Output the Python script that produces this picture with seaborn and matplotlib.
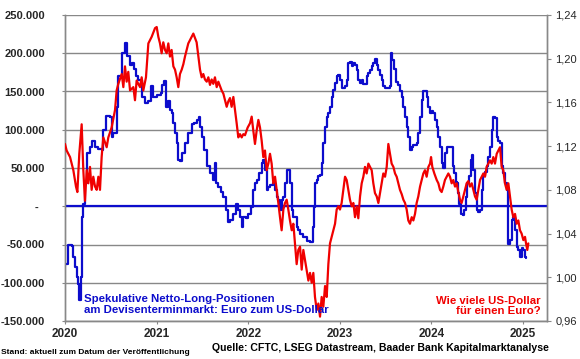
import matplotlib
matplotlib.use("Agg")
import matplotlib.pyplot as plt
import matplotlib.ticker as mticker
import numpy as np
import pandas as pd
import seaborn as sns

# ---- Data ----
# Speculative net long positions (thousand contracts), time in decimal years
pos_t = [2020.000, 2020.036, 2020.073, 2020.091, 2020.109, 2020.127, 2020.146, 2020.156, 2020.171, 2020.182,
         2020.200, 2020.218, 2020.237, 2020.273, 2020.291, 2020.309, 2020.328, 2020.364, 2020.400, 2020.418,
         2020.448, 2020.491, 2020.509, 2020.528, 2020.564, 2020.582, 2020.619, 2020.655, 2020.673, 2020.710,
         2020.728, 2020.753, 2020.775, 2020.801, 2020.837, 2020.873, 2020.910, 2020.935, 2020.964, 2021.001,
         2021.019, 2021.048, 2021.063, 2021.084, 2021.099, 2021.121, 2021.146, 2021.164, 2021.183, 2021.201,
         2021.219, 2021.237, 2021.255, 2021.274, 2021.310, 2021.346, 2021.383, 2021.412, 2021.437, 2021.463,
         2021.474, 2021.492, 2021.521, 2021.547, 2021.583, 2021.619, 2021.637, 2021.648, 2021.674, 2021.703,
         2021.729, 2021.754, 2021.776, 2021.801, 2021.838, 2021.863, 2021.885, 2021.910, 2021.929, 2021.947,
         2021.972, 2022.001, 2022.031, 2022.056, 2022.074, 2022.100, 2022.122, 2022.147, 2022.165, 2022.183,
         2022.202, 2022.220, 2022.238, 2022.274, 2022.293, 2022.311, 2022.329, 2022.347, 2022.365, 2022.384,
         2022.402, 2022.420, 2022.438, 2022.456, 2022.475, 2022.493, 2022.529, 2022.547, 2022.566, 2022.602,
         2022.638, 2022.675, 2022.704, 2022.718, 2022.729, 2022.748, 2022.766, 2022.784, 2022.802, 2022.820,
         2022.839, 2022.857, 2022.875, 2022.893, 2022.911, 2022.930, 2022.948, 2022.966, 2022.984, 2023.002,
         2023.020, 2023.039, 2023.057, 2023.075, 2023.093, 2023.111, 2023.130, 2023.148, 2023.166, 2023.184,
         2023.202, 2023.221, 2023.239, 2023.257, 2023.275, 2023.293, 2023.312, 2023.330, 2023.348, 2023.366,
         2023.384, 2023.403, 2023.421, 2023.439, 2023.457, 2023.475, 2023.494, 2023.530, 2023.548, 2023.559,
         2023.574, 2023.595, 2023.610, 2023.632, 2023.657, 2023.676, 2023.694, 2023.712, 2023.730, 2023.748,
         2023.766, 2023.785, 2023.803, 2023.839, 2023.857, 2023.876, 2023.894, 2023.912, 2023.930, 2023.948,
         2023.967, 2023.985, 2024.003, 2024.021, 2024.039, 2024.058, 2024.076, 2024.094, 2024.112, 2024.130,
         2024.148, 2024.167, 2024.203, 2024.221, 2024.232, 2024.247, 2024.269, 2024.283, 2024.294, 2024.305,
         2024.320, 2024.341, 2024.356, 2024.378, 2024.392, 2024.414, 2024.429, 2024.440, 2024.458, 2024.476,
         2024.494, 2024.512, 2024.531, 2024.549, 2024.567, 2024.585, 2024.603, 2024.622, 2024.640, 2024.658,
         2024.676, 2024.694, 2024.713, 2024.731, 2024.749, 2024.767, 2024.785, 2024.803, 2024.822, 2024.833,
         2024.840, 2024.858, 2024.876, 2024.894, 2024.913, 2024.931, 2024.949, 2024.967, 2024.985, 2025.004,
         2025.022, 2025.033]
pos_k = [-75, -51, -52, -66, -80, -93, -101, -123, -93, -14,
         3, 30, 69, 77, 85, 85, 77, 75, 73, 100,
         118, 117, 91, 96, 130, 170, 200, 213, 196, 185,
         187, 180, 170, 165, 143, 135, 137, 157, 143, 146,
         146, 148, 159, 164, 130, 137, 126, 122, 109, 96,
         83, 61, 59, 70, 83, 96, 107, 109, 113, 117,
         104, 91, 74, 52, 43, 34, 56, 30, 25, 19,
         12, -5, -20, -18, -10, 3, -5, -14, -27, -14,
         -16, -10, -1, 21, 30, 34, 43, 56, 61, 48,
         21, 25, 28, 30, 21, 12, 8, -5, 8, 12,
         30, 48, 48, 30, -5, -14, -27, -31, -36, -40,
         -45, -47, -27, -1, 30, 34, 39, 41, 56, 83,
         104, 117, 122, 130, 143, 152, 161, 170, 172, 165,
         154, 154, 157, 165, 187, 189, 183, 187, 185, 178,
         165, 161, 165, 160, 160, 170, 174, 178, 183, 187,
         192, 185, 178, 172, 165, 157, 154, 154, 157, 200,
         191, 180, 163, 159, 150, 143, 130, 117, 104, 91,
         74, 78, 80, 83, 96, 117, 139, 150, 150, 143,
         130, 122, 124, 122, 113, 104, 91, 78, 56, 50,
         70, 78, 78, 78, 52, 43, 32, 30, 17, 3,
         -10, -12, -5, 12, 30, 39, 61, 67, 48, 17,
         -5, -7, -5, 21, 39, 45, 52, 65, 78, 100,
         117, 116, 91, 85, 83, 52, 43, 30, 21, -5,
         -49, -44, -18, -14, -31, -53, -57, -66, -55, -57,
         -66, -68]

# EUR/USD exchange rate, time in decimal years
fx_t = [2020.000, 2020.018, 2020.055, 2020.091, 2020.120, 2020.135, 2020.156, 2020.182, 2020.200, 2020.218,
        2020.237, 2020.255, 2020.273, 2020.291, 2020.309, 2020.328, 2020.346, 2020.364, 2020.382, 2020.400,
        2020.418, 2020.455, 2020.473, 2020.509, 2020.546, 2020.564, 2020.582, 2020.619, 2020.637, 2020.655,
        2020.673, 2020.691, 2020.710, 2020.746, 2020.764, 2020.782, 2020.819, 2020.837, 2020.855, 2020.884,
        2020.910, 2020.946, 2020.983, 2021.001, 2021.019, 2021.037, 2021.055, 2021.073, 2021.092, 2021.110,
        2021.128, 2021.146, 2021.164, 2021.183, 2021.201, 2021.219, 2021.237, 2021.255, 2021.274, 2021.292,
        2021.310, 2021.328, 2021.346, 2021.383, 2021.401, 2021.419, 2021.437, 2021.456, 2021.474, 2021.492,
        2021.510, 2021.528, 2021.547, 2021.565, 2021.583, 2021.601, 2021.619, 2021.637, 2021.656, 2021.674,
        2021.710, 2021.729, 2021.747, 2021.765, 2021.783, 2021.801, 2021.819, 2021.838, 2021.856, 2021.874,
        2021.892, 2021.910, 2021.929, 2021.947, 2021.965, 2021.994, 2022.020, 2022.038, 2022.056, 2022.074,
        2022.092, 2022.111, 2022.129, 2022.147, 2022.165, 2022.183, 2022.202, 2022.220, 2022.238, 2022.256,
        2022.274, 2022.293, 2022.311, 2022.329, 2022.347, 2022.365, 2022.384, 2022.402, 2022.420, 2022.438,
        2022.456, 2022.475, 2022.493, 2022.511, 2022.529, 2022.547, 2022.566, 2022.584, 2022.602, 2022.620,
        2022.638, 2022.657, 2022.675, 2022.693, 2022.711, 2022.729, 2022.748, 2022.766, 2022.784, 2022.802,
        2022.820, 2022.839, 2022.857, 2022.875, 2022.893, 2022.911, 2022.930, 2022.948, 2022.966, 2022.984,
        2023.002, 2023.020, 2023.039, 2023.057, 2023.075, 2023.093, 2023.111, 2023.130, 2023.148, 2023.166,
        2023.184, 2023.202, 2023.221, 2023.239, 2023.257, 2023.275, 2023.293, 2023.312, 2023.330, 2023.348,
        2023.366, 2023.384, 2023.403, 2023.421, 2023.439, 2023.457, 2023.475, 2023.494, 2023.512, 2023.530,
        2023.548, 2023.566, 2023.585, 2023.603, 2023.621, 2023.639, 2023.657, 2023.676, 2023.694, 2023.712,
        2023.730, 2023.748, 2023.766, 2023.785, 2023.803, 2023.821, 2023.839, 2023.857, 2023.876, 2023.894,
        2023.912, 2023.930, 2023.948, 2023.967, 2023.985, 2023.996, 2024.010, 2024.032, 2024.058, 2024.076,
        2024.094, 2024.112, 2024.130, 2024.148, 2024.167, 2024.185, 2024.203, 2024.221, 2024.239, 2024.258,
        2024.276, 2024.294, 2024.312, 2024.330, 2024.349, 2024.367, 2024.385, 2024.403, 2024.421, 2024.440,
        2024.458, 2024.476, 2024.494, 2024.512, 2024.531, 2024.549, 2024.567, 2024.585, 2024.603, 2024.622,
        2024.640, 2024.658, 2024.676, 2024.694, 2024.713, 2024.731, 2024.749, 2024.767, 2024.785, 2024.803,
        2024.822, 2024.840, 2024.858, 2024.876, 2024.894, 2024.913, 2024.931, 2024.949, 2024.967, 2024.985,
        2025.004, 2025.022, 2025.033, 2025.047, 2025.058]
fx_v = [1.122, 1.116, 1.110, 1.098, 1.083, 1.078, 1.113, 1.140, 1.098, 1.070,
        1.098, 1.086, 1.101, 1.080, 1.092, 1.083, 1.080, 1.092, 1.080, 1.110,
        1.128, 1.119, 1.128, 1.137, 1.153, 1.171, 1.177, 1.186, 1.174, 1.193,
        1.179, 1.188, 1.171, 1.174, 1.162, 1.180, 1.174, 1.183, 1.171, 1.183,
        1.214, 1.220, 1.228, 1.229, 1.220, 1.214, 1.205, 1.215, 1.208, 1.205,
        1.214, 1.202, 1.208, 1.193, 1.190, 1.183, 1.174, 1.186, 1.190, 1.195,
        1.202, 1.208, 1.214, 1.220, 1.223, 1.219, 1.215, 1.202, 1.190, 1.183,
        1.186, 1.181, 1.179, 1.183, 1.176, 1.181, 1.177, 1.183, 1.174, 1.179,
        1.171, 1.168, 1.162, 1.156, 1.161, 1.164, 1.156, 1.165, 1.153, 1.141,
        1.128, 1.131, 1.128, 1.131, 1.130, 1.137, 1.141, 1.147, 1.134, 1.122,
        1.134, 1.144, 1.137, 1.125, 1.110, 1.116, 1.098, 1.104, 1.113, 1.104,
        1.086, 1.092, 1.080, 1.068, 1.055, 1.043, 1.062, 1.068, 1.071, 1.062,
        1.052, 1.043, 1.049, 1.031, 1.012, 1.025, 1.028, 1.007, 1.025, 1.016,
        1.007, 0.997, 1.004, 0.995, 1.004, 0.982, 0.970, 0.976, 0.964, 0.982,
        0.973, 0.992, 0.982, 1.012, 1.031, 1.037, 1.043, 1.049, 1.062, 1.065,
        1.062, 1.068, 1.080, 1.092, 1.089, 1.080, 1.071, 1.065, 1.068, 1.055,
        1.065, 1.054, 1.074, 1.086, 1.092, 1.101, 1.095, 1.104, 1.101, 1.098,
        1.086, 1.077, 1.074, 1.068, 1.077, 1.086, 1.095, 1.092, 1.101, 1.122,
        1.113, 1.104, 1.101, 1.095, 1.092, 1.086, 1.080, 1.076, 1.071, 1.068,
        1.062, 1.052, 1.049, 1.055, 1.052, 1.058, 1.068, 1.074, 1.083, 1.089,
        1.095, 1.098, 1.092, 1.101, 1.104, 1.110, 1.101, 1.095, 1.089, 1.086,
        1.080, 1.078, 1.083, 1.089, 1.092, 1.095, 1.092, 1.086, 1.089, 1.083,
        1.086, 1.078, 1.071, 1.068, 1.074, 1.080, 1.086, 1.088, 1.083, 1.086,
        1.080, 1.074, 1.071, 1.080, 1.089, 1.092, 1.095, 1.092, 1.101, 1.104,
        1.107, 1.104, 1.110, 1.104, 1.113, 1.116, 1.119, 1.101, 1.098, 1.086,
        1.080, 1.086, 1.074, 1.062, 1.055, 1.058, 1.049, 1.052, 1.043, 1.040,
        1.034, 1.037, 1.031, 1.025, 1.031]

years = [2020, 2021, 2022, 2023, 2024, 2025]
left_ticks = [250000, 200000, 150000, 100000, 50000, 0, -50000, -100000, -150000]
right_ticks = [1.24, 1.20, 1.16, 1.12, 1.08, 1.04, 1.00, 0.96]

label_pos = "Spekulative Netto-Long-Positionen\nam Devisenterminmarkt: Euro zum US-Dollar"
label_fx = "Wie viele US-Dollar\nfür einen Euro?"
source = "Quelle: CFTC, LSEG Datastream, Baader Bank Kapitalmarktanalyse"
stand = "Stand: aktuell zum Datum der Veröffentlichung"

# ---- Styling ----
sns.set_style("white")
plt.rcParams["font.family"] = ["Liberation Sans", "DejaVu Sans"]

BLUE = "#0C0CCC"
RED = "#F00000"
GRID = "#888888"

df_pos = pd.DataFrame({"t": pos_t, "pos": np.array(pos_k) * 1000})
df_fx = pd.DataFrame({"t": fx_t, "fx": fx_v})

fig = plt.figure(figsize=(5.8, 3.59), dpi=100)
ax = fig.add_axes([65 / 580, 1 - 321 / 359, (547 - 65) / 580, (321 - 15) / 359])
ax2 = ax.twinx()

ax.set_ylim(-150000, 250000)
ax.set_yticks(left_ticks)
ax.set_xlim(2020, 2025.262)
ax.set_xticks(years)
ax.yaxis.grid(True, color=GRID, lw=1.0)
ax.set_axisbelow(True)
ax.axhline(0, color=BLUE, lw=1.6, zorder=3)

sns.lineplot(data=df_pos, x="t", y="pos", ax=ax, color=BLUE, lw=1.6,
             drawstyle="steps-post", zorder=4)

sns.lineplot(data=df_fx, x="t", y="fx", ax=ax2, color=RED, lw=1.6, zorder=5)
ax2.set_ylim(0.96, 1.24)
ax2.set_yticks(right_ticks)

def left_fmt(v, _):
    if abs(v) < 1:
        return "-  "
    return f"{v:,.0f}".replace(",", ".")

ax.yaxis.set_major_formatter(mticker.FuncFormatter(left_fmt))
ax2.yaxis.set_major_formatter(mticker.FuncFormatter(lambda v, _: f"{v:.2f}".replace(".", ",")))
ax.xaxis.set_major_formatter(mticker.FuncFormatter(lambda v, _: f"{int(round(v))}"))

for a in (ax, ax2):
    a.set_xlabel("")
    a.set_ylabel("")
    a.spines["top"].set_visible(False)
    for s in ("left", "right", "bottom"):
        a.spines[s].set_color(GRID)
        a.spines[s].set_linewidth(1.0)

ax.tick_params(axis="y", which="major", length=2, color=GRID, pad=12.5, labelsize=8.0)
ax.tick_params(axis="x", which="major", length=2.5, color=GRID, pad=2.5, labelsize=8.5, bottom=True)
ax2.tick_params(axis="y", which="major", length=3, color=GRID, pad=3, labelsize=8.0, right=True)
for lab in ax.get_yticklabels() + ax.get_xticklabels():
    lab.set_fontweight("bold")

fig.text(84 / 580, 1 - 304.5 / 359, label_pos, color=BLUE, fontsize=8.2, fontweight="bold",
         ha="left", va="center", linespacing=1.05)
fig.text(541 / 580, 1 - 306 / 359, label_fx, color=RED, fontsize=8.2, fontweight="bold",
         ha="right", va="center", multialignment="right", linespacing=1.05)
fig.text(212 / 580, 1 - 348 / 359, source, color="black", fontsize=7.6, fontweight="bold",
         ha="left", va="center")
fig.text(1 / 580, 1 - 353 / 359, stand, color="black", fontsize=6.0, fontweight="bold",
         ha="left", va="center")

fig.savefig("out.png", dpi=100)
